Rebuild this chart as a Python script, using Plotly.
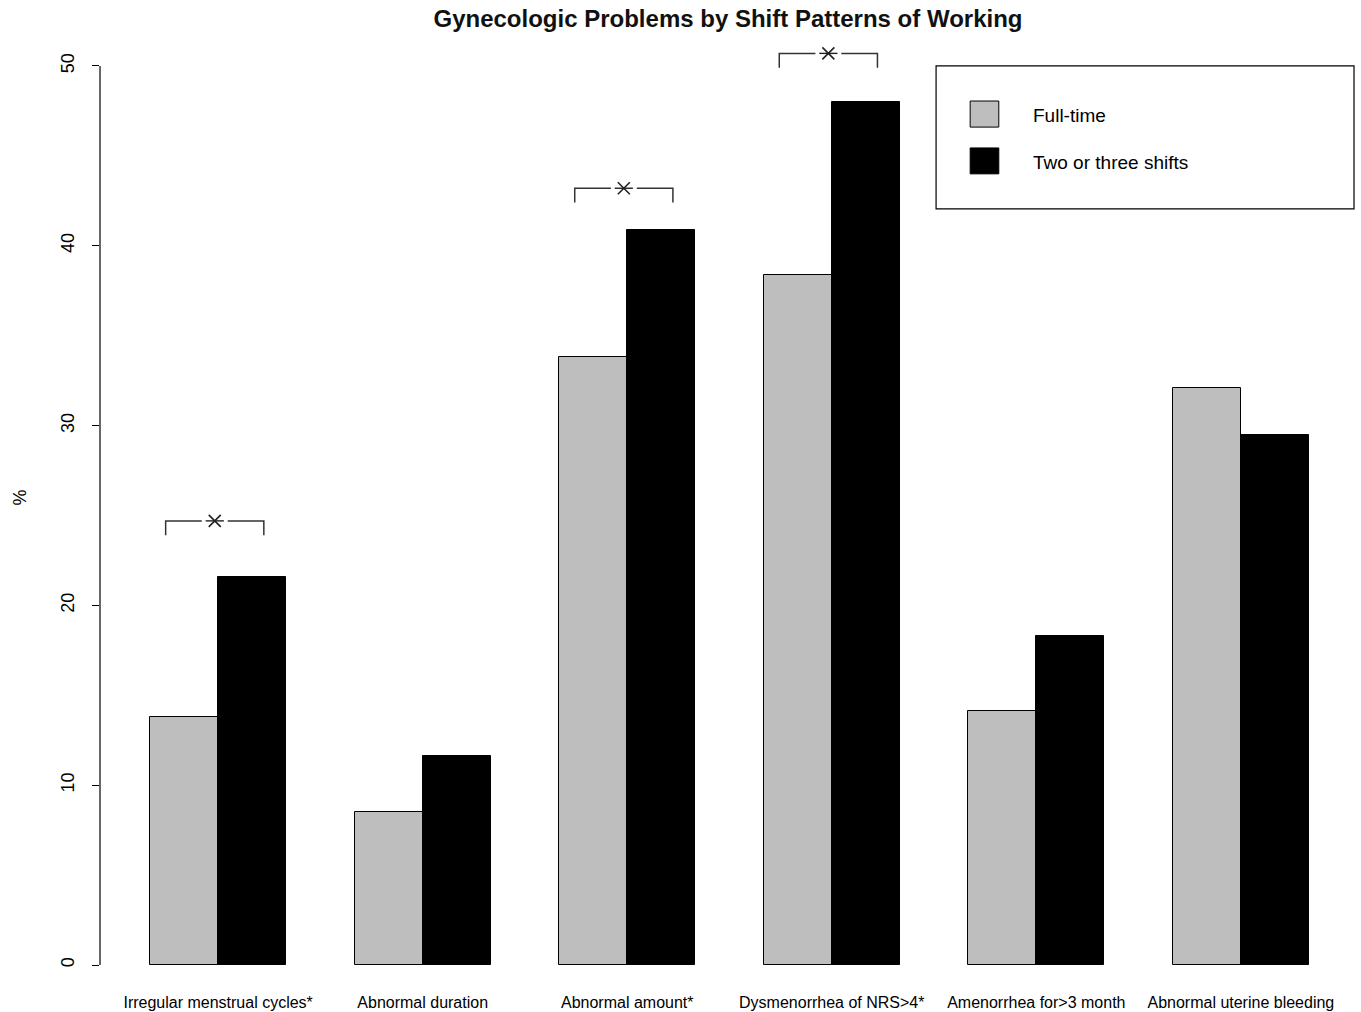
import plotly.graph_objects as go

categories = ["Irregular menstrual cycles*", "Abnormal duration", "Abnormal amount*",
              "Dysmenorrhea of NRS>4*", "Amenorrhea for>3 month", "Abnormal uterine bleeding"]
full_time = [13.8, 8.5, 33.8, 38.4, 14.1, 32.1]
shifts = [21.6, 11.6, 40.9, 48.0, 18.3, 29.5]
sig_groups = [0, 2, 3]
sig_heights = [24.7, 43.2, 50.7]
y_ticks = [0, 10, 20, 30, 40, 50]
series_names = ["Full-time", "Two or three shifts"]

FONT = "Liberation Sans, Arial, sans-serif"
GRAY = "#bebebe"

# R barplot layout: bar width 1, gap of 1 between groups
starts = [1 + 3 * i for i in range(len(categories))]
x_full = [s + 0.5 for s in starts]
x_shift = [s + 1.5 for s in starts]
centers = [s + 1.0 for s in starts]

fig = go.Figure()
fig.add_trace(go.Bar(x=x_full, y=full_time, width=1.0, name=series_names[0],
                     marker=dict(color=GRAY, line=dict(color="black", width=1)),
                     showlegend=False))
fig.add_trace(go.Bar(x=x_shift, y=shifts, width=1.0, name=series_names[1],
                     marker=dict(color="black", line=dict(color="black", width=1)),
                     showlegend=False))

# significance brackets
bx, by, sx, sy = [], [], [], []
leg = 0.8
gap = 0.19
for gi, h in zip(sig_groups, sig_heights):
    s = starts[gi]
    left, right = s + 0.23, s + 1.67
    c = (left + right) / 2
    bx += [left, left, c - gap, None, c + gap, right, right, None]
    by += [h - leg, h, h, None, h, h, h - leg, None]
    sx.append(c)
    sy.append(h)
fig.add_trace(go.Scatter(x=bx, y=by, mode="lines", line=dict(color="#333333", width=1.5),
                         showlegend=False, hoverinfo="skip"))
fig.add_trace(go.Scatter(x=sx, y=sy, mode="markers", showlegend=False, hoverinfo="skip",
                         marker=dict(symbol="x-thin-open", size=12, color="#222222",
                                     line=dict(color="#222222", width=1.6))))
fig.add_trace(go.Scatter(x=sx, y=sy, mode="markers", showlegend=False, hoverinfo="skip",
                         marker=dict(symbol="line-ew-open", size=13, color="#222222",
                                     line=dict(color="#222222", width=1.4))))

shapes = []
# y axis line from 0 to 50 (R style)
shapes.append(dict(type="line", xref="paper", yref="y", x0=0, x1=0, y0=0, y1=50,
                   line=dict(color="black", width=1.2)))
# legend box
shapes.append(dict(type="rect", xref="x", yref="y", x0=12.53, x1=18.66, y0=42.05, y1=50.0,
                   line=dict(color="black", width=1.2), fillcolor="rgba(0,0,0,0)"))
shapes.append(dict(type="rect", xref="x", yref="y", x0=13.03, x1=13.45, y0=46.6, y1=48.05,
                   line=dict(color="black", width=1), fillcolor=GRAY))
shapes.append(dict(type="rect", xref="x", yref="y", x0=13.03, x1=13.45, y0=44.0, y1=45.44,
                   line=dict(color="black", width=1), fillcolor="black"))
annotations = [
    dict(x=13.92, y=47.25, xref="x", yref="y", text=series_names[0], showarrow=False,
         xanchor="left", yanchor="middle", font=dict(family=FONT, size=19, color="black")),
    dict(x=13.92, y=44.62, xref="x", yref="y", text=series_names[1], showarrow=False,
         xanchor="left", yanchor="middle", font=dict(family=FONT, size=19, color="black")),
]

fig.update_layout(
    width=1361, height=1012,
    margin=dict(l=100, r=5, t=30, b=47),
    paper_bgcolor="white", plot_bgcolor="white",
    bargap=0, barmode="overlay",
    title=dict(text="<b>Gynecologic Problems by Shift Patterns of Working</b>",
               x=0.5, xanchor="center", y=1 - 19 / 1012, yanchor="middle",
               xref="paper",
               font=dict(family=FONT, size=24, color="#111111")),
    font=dict(family=FONT, color="black"),
    xaxis=dict(range=[0.267, 18.689], tickvals=centers, ticktext=categories,
               showgrid=False, zeroline=False, showline=False, ticks="", automargin=False,
               ticklabelstandoff=26, tickfont=dict(family=FONT, size=16, color="black")),
    yaxis=dict(range=[0, 52.0], tickvals=y_ticks, ticktext=[str(v) for v in y_ticks],
               showgrid=False, zeroline=False, showline=False, automargin=False,
               ticks="outside", ticklen=7, tickwidth=1.2, tickcolor="black",
               tickangle=-90, ticklabelstandoff=11,
               tickfont=dict(family=FONT, size=18, color="black"),
               title=dict(text="%", standoff=26, font=dict(family=FONT, size=18, color="black"))),
    shapes=shapes,
    annotations=annotations,
)

fig.write_html("out.html", config={"displayModeBar": False},
               post_script="document.body.style.margin='0';document.body.style.overflow='hidden';")
